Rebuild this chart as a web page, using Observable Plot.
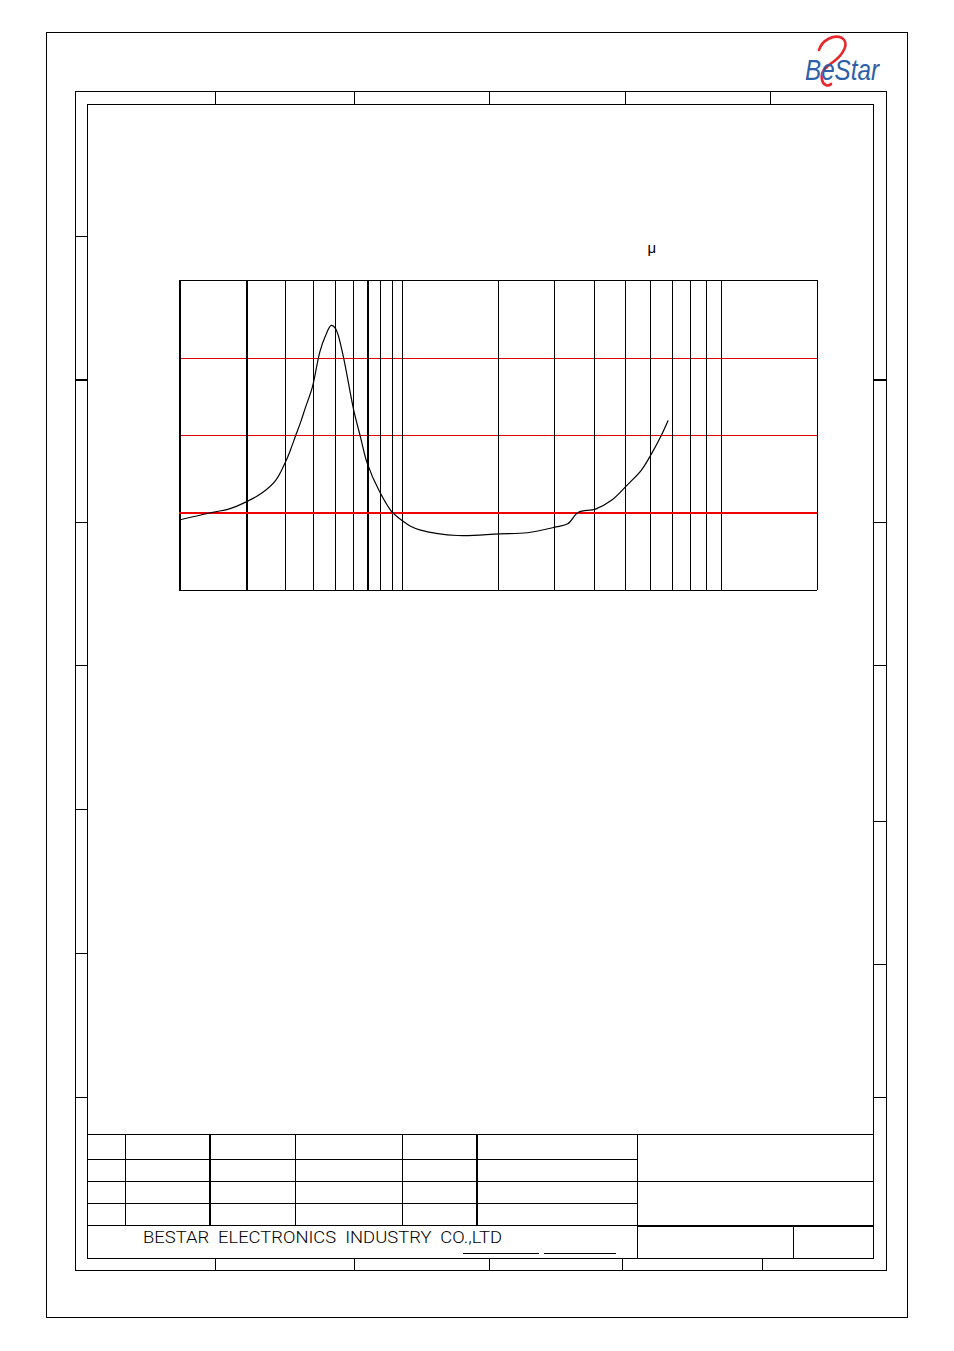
<!DOCTYPE html>
<html>
<head>
<meta charset="utf-8">
<script src="https://cdn.jsdelivr.net/npm/d3@7"></script>
<script src="https://cdn.jsdelivr.net/npm/@observablehq/plot@0.6"></script>
<style>
  html, body { margin: 0; padding: 0; background: #fff; }
  #page { position: relative; width: 954px; height: 1351px; overflow: hidden; }
  #page > svg { position: absolute; left: 0; top: 0; }
</style>
</head>
<body>
<div id="page"></div>
<script>
// ---- data (frequency in Hz, curve value in grid units) ----
const freqHz = [100, 141, 166, 198, 235, 270, 299, 315, 331, 349, 367, 394, 426, 452, 479, 501, 537, 605, 648, 695, 791, 899, 1000, 1060, 1139, 1486, 2008, 2466, 3028, 3296, 3560, 4025, 4510, 5089, 5603, 6025, 6475, 6797];
const curveValue = [9.1, 10.1, 10.5, 11.4, 12.6, 14.2, 16.6, 18.2, 19.9, 21.7, 23.6, 26.2, 30.8, 32.9, 34.2, 33.8, 30.8, 23.2, 19.8, 16.4, 12.7, 10.1, 9.0, 8.3, 7.8, 7.1, 7.3, 7.45, 8.2, 8.6, 10.1, 10.5, 11.6, 13.7, 15.5, 17.6, 20.0, 21.9];
const gridFreqs = [100, 200, 300, 400, 500, 600, 700, 800, 900, 1000, 2000, 3000, 4000, 5000, 6000, 7000, 8000, 9000, 10000, 20000];
const boldFreqs = [100, 200, 700];
const minorLevels = [20, 30];
const referenceLevel = [10];
const frameLevels = [0, 40];
const unitLabel = ["μ"];
const companyName = "BESTAR ELECTRONICS INDUSTRY CO.,LTD";
const brandName = "BeStar";

const data = freqHz.map((f, i) => ({f, v: curveValue[i]}));

// ---- drawing-sheet frame (decoration) ----
const frame = d3.select("#page").append("svg").attr("width", 954).attr("height", 1351);
function ln(x1, y1, x2, y2, w = 1) {
  frame.append("line").attr("x1", x1).attr("y1", y1).attr("x2", x2).attr("y2", y2)
    .attr("stroke", "#000").attr("stroke-width", w).attr("shape-rendering", "crispEdges");
}
function rect(x, y, w, h, sw = 1) {
  frame.append("rect").attr("x", x).attr("y", y).attr("width", w).attr("height", h)
    .attr("fill", "none").attr("stroke", "#000").attr("stroke-width", sw).attr("shape-rendering", "crispEdges");
}
rect(46.5, 32.5, 861, 1285);
rect(75.5, 91.5, 811, 1179);
rect(87.5, 104.5, 786, 1154);
[215, 354, 489, 625, 770].forEach(x => ln(x + .5, 91, x + .5, 104));
[215, 354, 489, 622, 762].forEach(x => ln(x + .5, 1258, x + .5, 1270));
[236, 379, 522, 665, 809, 953, 1097].forEach(y => ln(76, y + .5, 88, y + .5, y === 379 ? 2 : 1));
[379, 522, 665, 821, 964, 1097].forEach(y => ln(873, y + .5, 886, y + .5, y === 379 ? 2 : 1));
// title block
ln(88, 1134.5, 873, 1134.5);
ln(88, 1159.5, 637, 1159.5);
ln(88, 1181.5, 873, 1181.5);
ln(88, 1203.5, 637, 1203.5);
ln(88, 1225.5, 637, 1225.5);
ln(637, 1225.5, 873, 1225.5, 2);
ln(125.5, 1134, 125.5, 1225);
ln(209.5, 1134, 209.5, 1225, 2);
ln(295.5, 1134, 295.5, 1225);
ln(402.5, 1134, 402.5, 1225);
ln(476.5, 1134, 476.5, 1225, 2);
ln(637.5, 1134, 637.5, 1258);
ln(793.5, 1225, 793.5, 1258);
ln(463, 1253.5, 539, 1253.5);
ln(544, 1253.5, 616, 1253.5);
frame.append("text").attr("x", 143).attr("y", 1243).text(companyName)
  .attr("font-family", "Roboto, Liberation Sans, Arial, sans-serif").attr("font-weight", 300)
  .attr("font-size", 16.5).attr("word-spacing", 4)
  .attr("textLength", 359).attr("lengthAdjust", "spacingAndGlyphs").attr("fill", "#000");
// logo
frame.append("path")
  .attr("d", "M819,50 C822,40 834,34 842,38 C850,43 843,55 833,62 C826,67 820,72 822,80 C823,85 828,87 831,84")
  .attr("fill", "none").attr("stroke", "#e8262b").attr("stroke-width", 2.6).attr("stroke-linecap", "round");
frame.append("text").attr("x", 805).attr("y", 80).text(brandName)
  .attr("font-family", "Liberation Sans Narrow, Liberation Sans, Arial, sans-serif")
  .attr("font-style", "italic").attr("font-size", 30)
  .attr("textLength", 74).attr("lengthAdjust", "spacingAndGlyphs")
  .attr("fill", "#2d5fa9");

// ---- chart ----
const W = 954, H = 1351;
const chart = Plot.plot({
  width: W,
  height: H,
  marginLeft: 179,
  marginRight: W - 817,
  marginTop: 280,
  marginBottom: H - 590,
  style: {background: "transparent", overflow: "visible"},
  x: {type: "log", domain: [100, 1000, 20000], range: [179, 402, 817], axis: null},
  y: {domain: [0, 40], axis: null},
  marks: [
    Plot.ruleY(minorLevels, {stroke: "#e00000", strokeWidth: 1, shapeRendering: "crispEdges"}),
    Plot.ruleX(gridFreqs, {stroke: "#000", strokeWidth: 1, shapeRendering: "crispEdges"}),
    Plot.ruleX(boldFreqs, {stroke: "#000", strokeWidth: 2, shapeRendering: "crispEdges"}),
    Plot.ruleY(frameLevels, {stroke: "#000", strokeWidth: 1, shapeRendering: "crispEdges"}),
    Plot.ruleY(referenceLevel, {stroke: "#ee0000", strokeWidth: 2, shapeRendering: "crispEdges"}),
    Plot.line(data, {x: "f", y: "v", stroke: "#000", strokeWidth: 1.2, curve: "catmull-rom"}),
    Plot.text(unitLabel, {x: () => 6050, y: () => 44.2, text: d => d, fontSize: 15,
      fontFamily: "Liberation Sans, Arial, sans-serif", fill: "#000"})
  ]
});
document.getElementById("page").appendChild(chart);
</script>
</body>
</html>
